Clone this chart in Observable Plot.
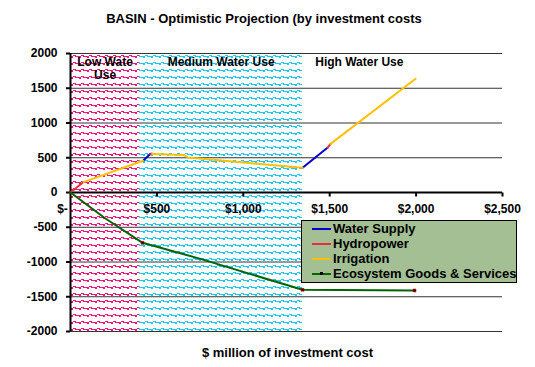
<!DOCTYPE html>
<html><head><meta charset="utf-8">
<script src="https://cdn.jsdelivr.net/npm/d3@7"></script>
<script src="https://cdn.jsdelivr.net/npm/@observablehq/plot@0.6"></script>
<style>
body{margin:0;background:#fff;font-family:"Liberation Sans",Arial,sans-serif;}
#wrap{position:relative;width:535px;height:367px;overflow:hidden;}
#wrap svg{position:absolute;left:0;top:0;}
.title{position:absolute;left:0;top:11px;width:528px;text-align:center;white-space:nowrap;font-weight:bold;font-size:13px;color:#000;}
.xtitle{position:absolute;left:0;width:575px;top:345px;text-align:center;font-weight:bold;font-size:13px;}
.legend{position:absolute;left:301px;top:220px;width:216px;height:63px;background:#a3bf93;border:1px solid #000;box-sizing:border-box;}
.legend div{position:absolute;left:10px;height:15px;font-weight:bold;font-size:13px;line-height:15px;white-space:nowrap;}
.legend span.sw{display:inline-block;width:19px;height:2px;vertical-align:middle;margin-right:2px;position:relative;top:-1px;}
.legend span.mk{position:absolute;left:8px;top:6px;width:3px;height:3px;background:#000;}
</style>
</head><body>
<div id="wrap"></div>
<script>
// ---- data ----
const titleText = "BASIN - Optimistic Projection (by investment costs";
const xTitle = "$ million of investment cost";
const seriesNames = ["Water Supply", "Hydropower", "Irrigation", "Ecosystem Goods & Services"];
const seriesColors = ["#0000cc", "#e8303a", "#ffc000", "#006400"];
const xTicks = [0, 500, 1000, 1500, 2000, 2500];
const xTickLabels = ["$-", "$500", "$1,000", "$1,500", "$2,000", "$2,500"];
const yTicks = [-2000, -1500, -1000, -500, 0, 500, 1000, 1500, 2000];

const regionNames = ["Low Wate\nUse", "Medium Water Use", "High Water Use"];
const regionStart = [0, 400, 1343];
const regionEnd = [400, 1343, 2000];

// segments of each series: [x, y] pairs
const waterSupply = [[[420, 456], [463, 557]], [[1343, 357], [1487, 643]]];
const hydropower = [[[0, 0], [75, 150]], [[463, 550], [472, 562]], [[1487, 643], [1505, 700]]];
const irrigation = [[[75, 150], [420, 456]],
  [[472, 553], [654, 540], [680, 505], [1000, 430], [1343, 357]],
  [[1505, 700], [1997, 1636]]];
const ecosystem = [[[0, 0], [200, -370], [417, -724], [752, -955], [1343, -1400], [1991, -1410]]];
const ecoMarkers = [[417, -724], [1343, -1400], [1991, -1410]];

// ---- build table ----
const allSeries = [waterSupply, hydropower, irrigation, ecosystem];
const pts = [];
allSeries.forEach((segs, si) => segs.forEach((seg, gi) => seg.forEach(([x, y]) =>
  pts.push({x, y, series: seriesNames[si], seg: si + "-" + gi}))));
const regions = regionNames.map((name, i) => ({name, x1: regionStart[i], x2: regionEnd[i]}));
const xLabelData = xTicks.map((x, i) => ({x, label: xTickLabels[i]}));

const tickSym = {draw(ctx) { ctx.moveTo(0, 0); ctx.lineTo(0, 4); }};

const plot = Plot.plot({
  width: 535, height: 367,
  marginLeft: 70, marginRight: 33, marginTop: 53, marginBottom: 36,
  x: {domain: [0, 2500], axis: null},
  y: {domain: [-2000, 2000], axis: null},
  color: {domain: seriesNames, range: seriesColors},
  style: {fontFamily: "'Liberation Sans', Arial, sans-serif", background: "white", color: "#000"},
  marks: [
    Plot.rect([regions[0]], {x1: "x1", x2: "x2", y1: -2000, y2: 2000, fill: "url(#patPink)"}),
    Plot.rect([regions[1]], {x1: "x1", x2: "x2", y1: -2000, y2: 2000, fill: "url(#patCyan)"}),
    Plot.ruleY(yTicks, {x1: 0, x2: 2500, stroke: "#333", strokeWidth: 1}),
    Plot.axisY({ticks: yTicks, tickSize: 4, tickPadding: 9, fontSize: 12, fontWeight: "bold", tickFormat: d => String(d), label: null, strokeWidth: 2}),
    Plot.ruleX([0], {y1: -2000, y2: 2000, stroke: "#000", strokeWidth: 2}),
    Plot.ruleY([0], {x1: 0, x2: 2500, stroke: "#000", strokeWidth: 2}),
    Plot.dot(xTicks.slice(1), {x: d => d, y: 0, symbol: tickSym, stroke: "#000", strokeWidth: 2, r: 3}),
    Plot.text(xLabelData.slice(0, 1), {x: "x", y: 0, dy: 17, dx: -8, text: "label", fontSize: 12, fontWeight: "bold"}),
    Plot.text(xLabelData.slice(1), {x: "x", y: 0, dy: 17, text: "label", fontSize: 12, fontWeight: "bold"}),
    Plot.text(regions, {x: d => (d.x1 + d.x2) / 2, y: 2000, dy: 3, text: "name", lineAnchor: "top", fontSize: 12, fontWeight: "bold", lineHeight: 1.1}),
    Plot.line(pts, {x: "x", y: "y", z: "seg", stroke: "series", strokeWidth: 2}),
    Plot.dot(ecoMarkers, {x: d => d[0], y: d => d[1], symbol: "square", r: 1.6, fill: "#300", stroke: "#c00", strokeWidth: 0.6})
  ]
});

// patterns
const defs = d3.select(plot).insert("defs", ":first-child");
[["patPink", "#f0147f"], ["patCyan", "#1ec6f4"]].forEach(([id, c]) => {
  const p = defs.append("pattern").attr("id", id).attr("patternUnits", "userSpaceOnUse")
    .attr("width", 8).attr("height", 7).attr("x", 70).attr("y", 53);
  p.append("rect").attr("width", 8).attr("height", 7).attr("fill", "#fff");
  p.append("path").attr("d", "M0,3h3v1h-3z M3,2h3v1h-3z M6,3h2v1h-2z M1,4h2v1h-2z M5,3h1v1h-1z").attr("fill", c);
});

const wrap = document.getElementById("wrap");
wrap.appendChild(plot);
const t = document.createElement("div"); t.className = "title"; t.textContent = titleText; wrap.appendChild(t);
const xt = document.createElement("div"); xt.className = "xtitle"; xt.textContent = xTitle; wrap.appendChild(xt);
const lg = document.createElement("div"); lg.className = "legend";
seriesNames.forEach((n, i) => {
  const row = document.createElement("div");
  row.style.top = (0 + i * 15) + "px";
  row.innerHTML = `<span class="sw" style="background:${seriesColors[i]}"></span>` + (i === 3 ? '<span class="mk"></span>' : '');
  row.appendChild(document.createTextNode(n));
  lg.appendChild(row);
});
wrap.appendChild(lg);
</script>
</body></html>
